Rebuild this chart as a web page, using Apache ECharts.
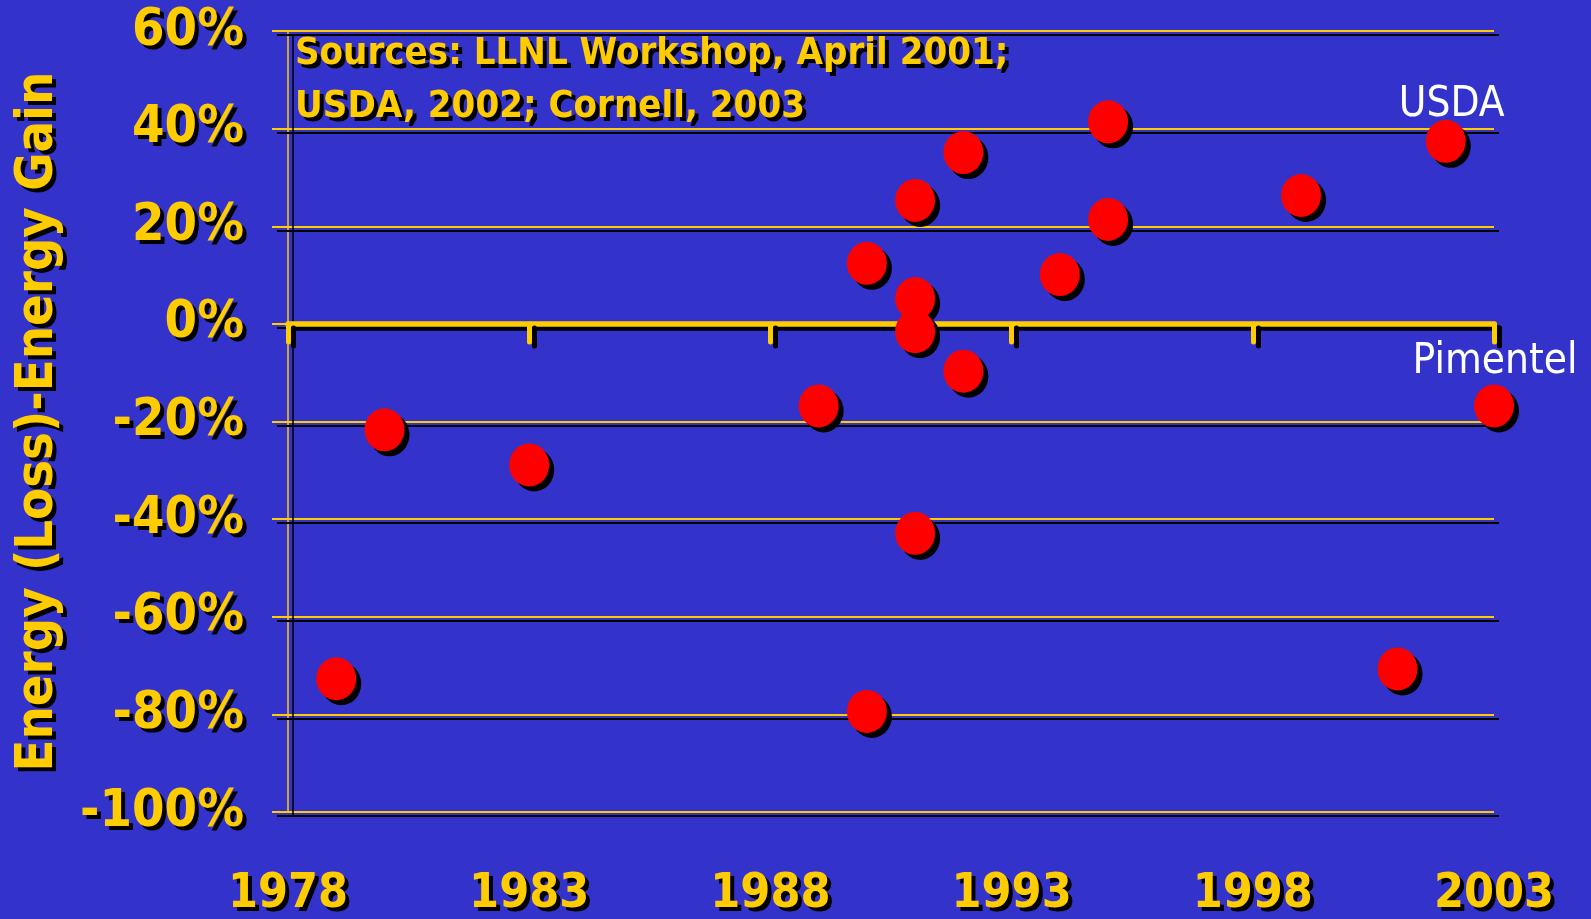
<!DOCTYPE html>
<html><head><meta charset="utf-8">
<script src="https://cdn.jsdelivr.net/npm/echarts@6/dist/echarts.min.js"></script>
<style>html,body{margin:0;padding:0;background:#3333cc;overflow:hidden}#c{width:1591px;height:919px}</style>
</head><body><div id="c"></div>
<script>
const years = [1979, 1980, 1983, 1989, 1990, 1990, 1991, 1991, 1991, 1991, 1992, 1992, 1994, 1995, 1995, 1999, 2001, 2002, 2003];
const gains = [-72.7, -21.7, -28.9, -16.8, 12.4, -79.4, 25.3, 5.2, -1.6, -42.9, 35.1, -9.7, 10.1, 41.4, 21.4, 26.3, -70.7, 37.4, -16.8];
const pointLabels = ['', '', '', '', '', '', '', '', '', '', '', '', '', '', '', '', '', 'USDA', 'Pimentel'];
const xTicks = [1978, 1983, 1988, 1993, 1998, 2003];
const yTicks = [-100, -80, -60, -40, -20, 0, 20, 40, 60];
const sourceLines = ['Sources: LLNL Workshop, April 2001;', 'USDA, 2002; Cornell, 2003'];
const yTitle = 'Energy (Loss)-Energy Gain';

const YEL = '#ffcc00', BG = '#3333cc';
const FONT = '"DejaVu Sans Condensed", "DejaVu Sans", sans-serif';
const tshadow = {textShadowColor: '#000', textShadowOffsetX: 4, textShadowOffsetY: 4, textShadowBlur: 0.1};
const lshadow = {shadowColor: '#000', shadowOffsetX: 5, shadowOffsetY: 4, shadowBlur: 0};

const pts = years.map((y, i) => ({value: [y, gains[i]], name: pointLabels[i]}));

const chart = echarts.init(document.getElementById('c'), null, {renderer: 'canvas'});
chart.setOption({
  backgroundColor: BG,
  animation: false,
  title: {
    text: sourceLines.join('\n'),
    left: 290, top: 23,
    textStyle: Object.assign({color: YEL, fontFamily: FONT, fontWeight: 'bold', fontSize: 38, lineHeight: 53}, tshadow)
  },
  grid: {left: 288, right: 97, top: 31, bottom: 107, containLabel: false},
  xAxis: [{
    type: 'value', min: xTicks[0], max: xTicks[xTicks.length - 1], interval: xTicks[1] - xTicks[0],
    position: 'bottom',
    axisLine: {show: true, onZero: true, lineStyle: Object.assign({color: YEL, width: 5.5, cap: 'round'}, lshadow)},
    axisTick: {show: true, inside: false, length: 18, lineStyle: Object.assign({color: YEL, width: 5, cap: 'round'}, lshadow)},
    axisLabel: {show: false},
    splitLine: {show: false}
  }, {
    type: 'value', min: xTicks[0], max: xTicks[xTicks.length - 1], interval: xTicks[1] - xTicks[0],
    position: 'bottom',
    axisLine: {show: false, onZero: false},
    axisTick: {show: false},
    splitLine: {show: false},
    axisLabel: Object.assign({show: true, color: YEL, fontFamily: FONT, fontWeight: 'bold', fontSize: 48, margin: 59,
      formatter: v => String(v)}, tshadow)
  }],
  yAxis: {
    type: 'value', min: yTicks[0], max: yTicks[yTicks.length - 1], interval: yTicks[1] - yTicks[0],
    name: yTitle, nameLocation: 'middle', nameRotate: 90, nameGap: 224,
    nameTextStyle: Object.assign({color: YEL, fontFamily: FONT, fontWeight: 'bold', fontSize: 52}, tshadow),
    axisLine: {show: true, onZero: false, lineStyle: Object.assign({color: YEL, width: 1.5}, lshadow)},
    axisTick: {show: true, inside: false, length: 16, lineStyle: Object.assign({color: YEL, width: 2}, lshadow)},
    splitLine: {show: true, lineStyle: Object.assign({color: YEL, width: 2}, lshadow)},
    axisLabel: Object.assign({color: YEL, fontFamily: FONT, fontWeight: 'bold', fontSize: 52, margin: 44, formatter: '{value}%'}, tshadow)
  },
  series: [{
    type: 'scatter', xAxisIndex: 0, yAxisIndex: 0, data: pts,
    symbol: 'circle', symbolSize: [40, 43], symbolOffset: [5, 5],
    itemStyle: {color: '#000', opacity: 1}, silent: true, z: 3
  }, {
    type: 'scatter', xAxisIndex: 0, yAxisIndex: 0, data: pts,
    symbol: 'circle', symbolSize: [40, 43],
    itemStyle: {color: '#ff0000', opacity: 1}, z: 4,
    label: {
      show: true, position: 'top', distance: 0,
      formatter: p => p.name,
      color: '#ffffff', fontFamily: FONT, fontSize: 42, fontWeight: 'normal'
    },
    labelLayout: function (p) {
      const i = p.dataIndex;
      if (pointLabels[i] === 'USDA') return {dx: 6, dy: 6};
      if (pointLabels[i] === 'Pimentel') return {dx: 1, dy: -1};
      return {};
    }
  }]
});
</script>
</body></html>
